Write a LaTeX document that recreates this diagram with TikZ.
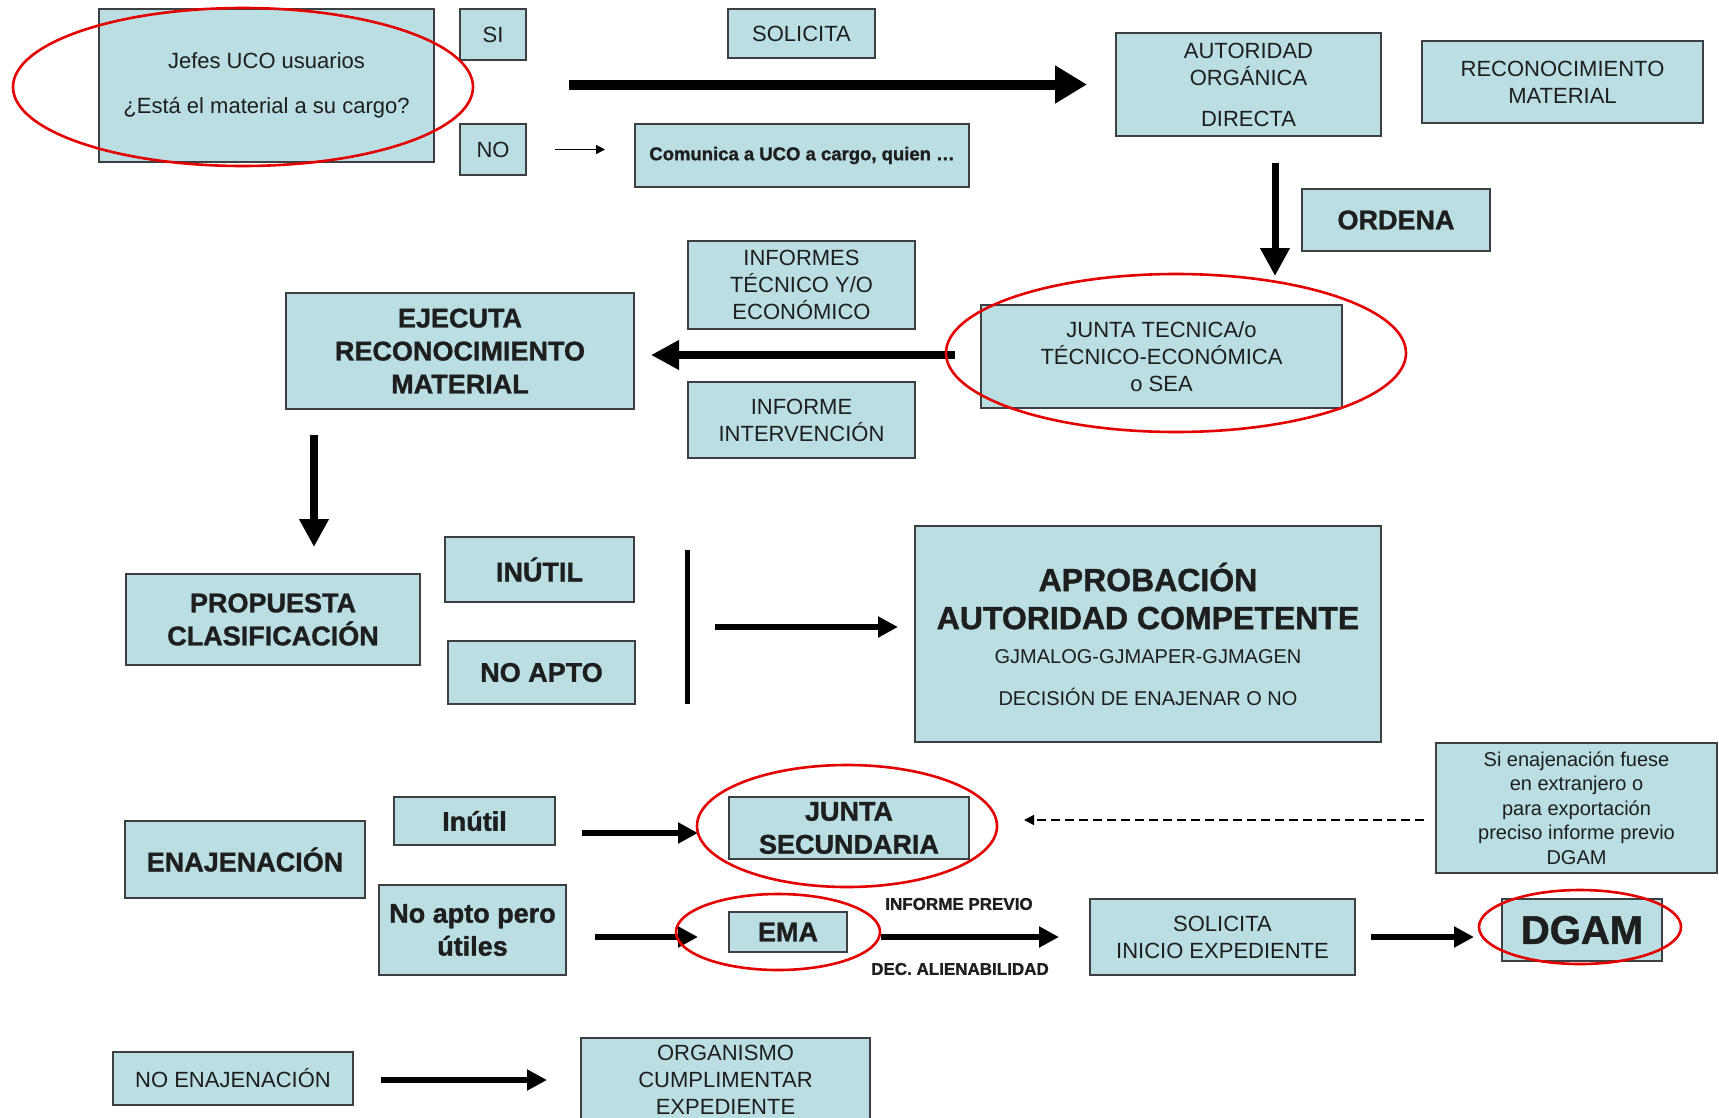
\documentclass[tikz,border=0pt]{standalone}
\usepackage{fontspec}
\setmainfont{Liberation Sans}
\newfontfamily\heavyfam{Liberation Sans}[BoldFeatures={FakeBold=1.2}]
\usetikzlibrary{arrows.meta,calc}
\definecolor{boxfill}{RGB}{186,222,226}
\definecolor{boxborder}{RGB}{60,64,66}
\definecolor{txt}{RGB}{30,30,30}
\definecolor{ringred}{RGB}{228,0,0}
\newcommand{\regf}{\fontsize{22}{27}\selectfont}
\newcommand{\boldf}{\heavyfam\bfseries\fontsize{27}{33}\selectfont}
\tikzset{
  box/.style={draw=boxborder, fill=boxfill, line width=2pt, inner sep=0pt, align=center, text=txt, font=\regf},
  bbox/.style={box, font=\boldf},
  bigarrow/.style={line width=10pt, -{Triangle[length=32pt,width=36pt]}},
  midarrow/.style={line width=8pt, -{Triangle[length=28pt,width=28pt]}},
  smallarrow/.style={line width=5.5pt, -{Triangle[length=20pt,width=20pt]}},
  thinarrow/.style={line width=1.6pt, -{Triangle[length=9pt,width=9pt]}},
  dasharrow/.style={line width=1.6pt, dash pattern=on 9pt off 5pt, -{Triangle[length=10pt,width=10pt]}},
  redring/.style={draw=ringred, line width=2.6pt},
  lbl/.style={inner sep=0pt, text=txt, font=\heavyfam\bfseries\fontsize{17}{20}\selectfont},
}
\begin{document}
\begin{tikzpicture}[x=1pt,y=-1pt]
\useasboundingbox (0,0) rectangle (1719,1117);
\fill[white] (0,0) rectangle (1719,1117);

% top row
\node[box, minimum width=335pt, minimum height=153pt, font=\fontsize{22}{45}\selectfont] (jefes) at (266.5,85.5)
  {Jefes UCO usuarios\\ ¿Está el material a su cargo?};
\node[box, minimum width=66pt, minimum height=51pt] (si) at (493,34.5) {SI};
\node[box, minimum width=66pt, minimum height=51pt] (no) at (493,149.5) {NO};
\node[box, minimum width=147pt, minimum height=49pt] (solicita) at (801.5,33.5) {SOLICITA};
\node[box, minimum width=334pt, minimum height=63pt, font=\heavyfam\bfseries\fontsize{18.5}{21}\selectfont] (comunica) at (802,155.5) {Comunica a UCO a cargo, quien \dots};
\node[box, minimum width=265pt, minimum height=103pt] (autoridad) at (1248.5,84.5)
  {AUTORIDAD\\ ORGÁNICA\\[14pt] DIRECTA};
\node[box, minimum width=281pt, minimum height=82pt] (recmat) at (1562.5,82)
  {RECONOCIMIENTO\\ MATERIAL};
\node[bbox, minimum width=188pt, minimum height=62pt] (ordena) at (1396,220) {ORDENA};

% second row
\node[box, minimum width=227pt, minimum height=88pt] (informes) at (801.5,285)
  {INFORMES\\ TÉCNICO Y/O\\ ECONÓMICO};
\node[box, minimum width=361pt, minimum height=103pt] (junta) at (1161.5,356.5)
  {JUNTA TECNICA/o\\ TÉCNICO-ECONÓMICA\\ o SEA};
\node[bbox, minimum width=348pt, minimum height=116pt] (ejecuta) at (460,351)
  {EJECUTA\\ RECONOCIMIENTO\\ MATERIAL};
\node[box, minimum width=227pt, minimum height=76pt] (interv) at (801.5,420)
  {INFORME\\ INTERVENCIÓN};

% third row
\node[bbox, minimum width=294pt, minimum height=91pt] (propuesta) at (273,619.5)
  {PROPUESTA\\ CLASIFICACIÓN};
\node[bbox, minimum width=189pt, minimum height=65pt] (inutil) at (539.5,569.5) {INÚTIL};
\node[bbox, minimum width=187pt, minimum height=63pt] (noapto) at (541.5,672.5) {NO APTO};
\node[box, minimum width=466pt, minimum height=216pt, font=\heavyfam\bfseries\fontsize{32}{38}\selectfont] (aprob) at (1148,634)
  {APROBACIÓN\\ AUTORIDAD COMPETENTE\\[-4pt]
   \mdseries\fontsize{20}{24}\selectfont GJMALOG-GJMAPER-GJMAGEN\\[4pt]
   \mdseries\fontsize{20}{24}\selectfont DECISIÓN DE ENAJENAR O NO};

% fourth row
\node[box, minimum width=281pt, minimum height=130pt, font=\fontsize{20}{24.5}\selectfont] (sienaj) at (1576.5,808)
  {Si enajenación fuese\\ en extranjero o\\ para exportación\\ preciso informe previo\\ DGAM};
\node[bbox, minimum width=240pt, minimum height=77pt] (enaj) at (245,859.5) {ENAJENACIÓN};
\node[bbox, minimum width=161pt, minimum height=48pt] (inutil2) at (474.5,821) {Inútil};
\node[bbox, minimum width=240pt, minimum height=62pt] (jsec) at (849,828) {JUNTA\\ SECUNDARIA};
\node[bbox, minimum width=187pt, minimum height=90pt] (noaptoutil) at (472.5,930) {No apto pero\\ útiles};
\node[bbox, minimum width=118pt, minimum height=40pt] (ema) at (788,932) {EMA};
\node[box, minimum width=265pt, minimum height=76pt] (solini) at (1222.5,937)
  {SOLICITA\\ INICIO EXPEDIENTE};
\node[box, minimum width=160pt, minimum height=62pt, font=\heavyfam\bfseries\fontsize{40}{44}\selectfont] (dgam) at (1582,930) {DGAM};
\node[lbl] (infprev) at (959,904) {INFORME PREVIO};
\node[lbl] (decal) at (960,969) {DEC. ALIENABILIDAD};

% bottom row
\node[box, minimum width=240pt, minimum height=53pt] (noenaj) at (233,1078.5) {NO ENAJENACIÓN};
\node[box, minimum width=289pt, minimum height=84pt] (organismo) at (725.5,1080)
  {ORGANISMO\\ CUMPLIMENTAR\\ EXPEDIENTE};

% connectors
\draw[bigarrow, shorten <=42pt, shorten >=28pt] (autoridad.west -| si.east) -- (autoridad.west);
\draw[thinarrow, shorten <=28pt, shorten >=29pt] (no.east) -- (no.east -| comunica.west);
\draw[midarrow, line width=7pt, shorten <=26pt, shorten >=28pt] ([xshift=26.5pt]autoridad.south) -- ([xshift=26.5pt]autoridad.south |- junta.north);
\draw[midarrow, shorten <=25pt, shorten >=16pt] ([yshift=1.5pt]junta.west) -- ([yshift=1.5pt]junta.west -| ejecuta.east);
\draw[midarrow, shorten <=25pt, shorten >=26pt] ([xshift=-146pt]ejecuta.south) -- ([xshift=-146pt]ejecuta.south |- propuesta.north);
\coordinate (bartop) at (687,550);
\coordinate (barbot) at (687,704);
\draw[line width=5pt] (bartop) -- (barbot);
\draw[smallarrow, shorten <=28pt, shorten >=16pt] ([yshift=7pt]aprob.west -| bartop) -- ([yshift=7pt]aprob.west);
\draw[smallarrow, shorten <=26pt, shorten >=30pt] ([yshift=-5pt]jsec.west -| inutil2.east) -- ([yshift=-5pt]jsec.west);
\draw[smallarrow, shorten <=28pt, shorten >=30pt] ([yshift=-5pt]ema.west -| noaptoutil.east) -- ([yshift=-5pt]ema.west);
\draw[smallarrow, shorten <=33pt, shorten >=30pt] (solini.west -| ema.east) -- (solini.west);
\draw[smallarrow, shorten <=15pt, shorten >=27pt] (solini.east) -- (solini.east -| dgam.west);
\draw[dasharrow, shorten <=11pt, shorten >=54pt] ([yshift=8pt]jsec.east -| sienaj.west) -- ([yshift=8pt]jsec.east);
\draw[smallarrow, shorten <=27pt, shorten >=33pt] ([yshift=-1.5pt]noenaj.east) -- ([yshift=-1.5pt]noenaj.east -| organismo.west);

% red rings
\draw[redring] ([xshift=-23.5pt,yshift=-1.5pt]jefes.center) ellipse [x radius=230pt, y radius=79pt];
\draw[redring] ([xshift=14.5pt,yshift=3.5pt]junta.center) ellipse [x radius=230pt, y radius=79pt];
\draw[redring] ([xshift=-2pt,yshift=2pt]jsec.center) ellipse [x radius=150pt, y radius=61pt];
\draw[redring] ([xshift=-10pt]ema.center) ellipse [x radius=102pt, y radius=38pt];
\draw[redring] ([xshift=-2pt,yshift=3pt]dgam.center) ellipse [x radius=101pt, y radius=37pt];
\end{tikzpicture}
\end{document}
